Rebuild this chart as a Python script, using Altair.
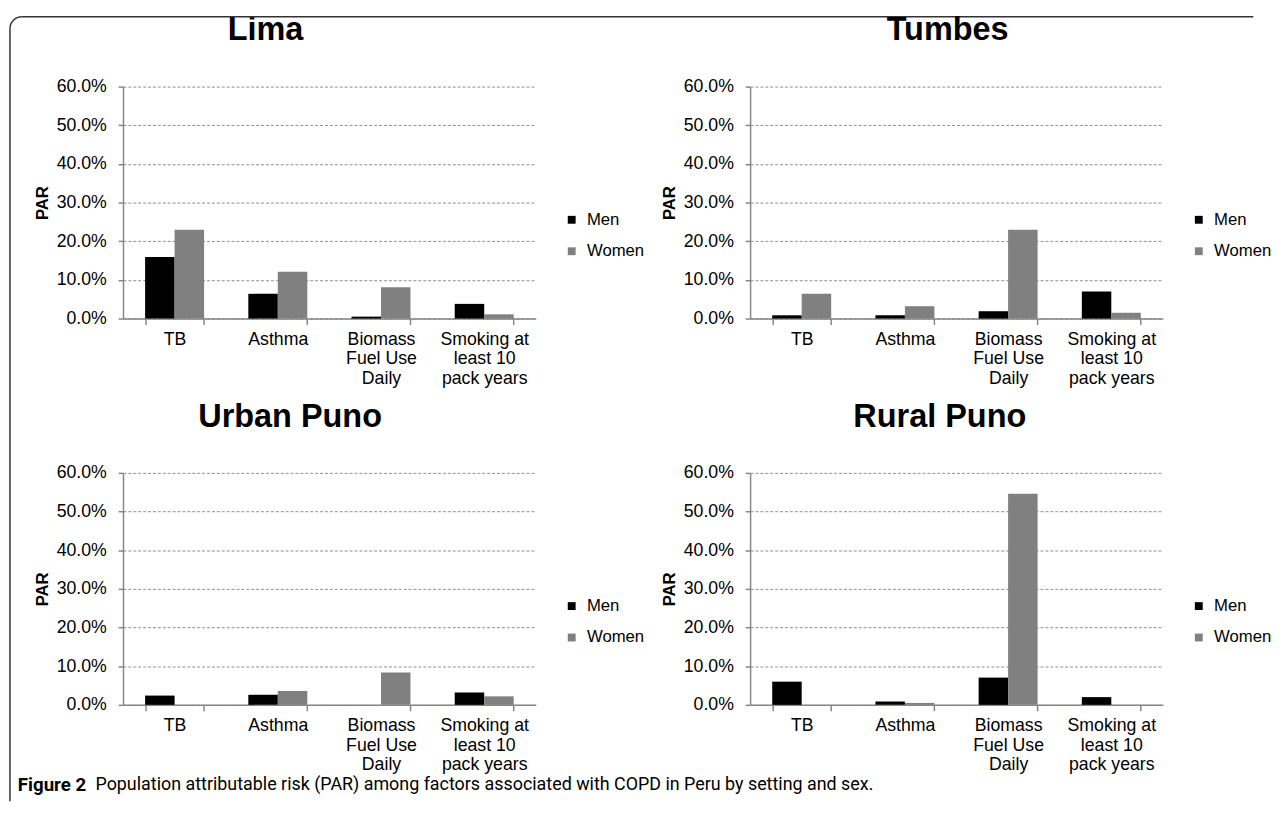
import altair as alt
import pandas as pd

categories = ["TB", "Asthma", "Biomass\nFuel Use\nDaily", "Smoking at\nleast 10\npack years"]
sexes = ["Men", "Women"]

lima_men = [15.9, 6.4, 0.5, 3.8]
lima_women = [23.0, 12.1, 8.1, 1.1]
tumbes_men = [0.85, 0.85, 1.9, 7.0]
tumbes_women = [6.4, 3.2, 23.0, 1.5]
urban_men = [2.4, 2.6, 0.0, 3.2]
urban_women = [0.0, 3.6, 8.4, 2.2]
rural_men = [6.0, 0.85, 7.05, 2.0]
rural_women = [0.0, 0.5, 54.6, 0.0]

y_ticks = [0, 10, 20, 30, 40, 50, 60]
caption_bold = "Figure 2"
caption_text = "Population attributable risk (PAR) among factors associated with COPD in Peru by setting and sex."

W, H = 420, 236
FONT = "Liberation Sans"
CAP_FONT = "Roboto"
TITLE_BASE = -47
TITLE_LH = -30


def panel(name, men, women, title_dx, legend_x, decorations=False):
    df = pd.DataFrame({
        "Category": categories * 2,
        "Sex": ["Men"] * len(categories) + ["Women"] * len(categories),
        "PAR": men + women,
    })
    bars = alt.Chart(df).mark_bar().encode(
        x=alt.X("Category:N", sort=categories,
                scale=alt.Scale(paddingInner=0.4286, paddingOuter=0.2143),
                axis=alt.Axis(title=None, labelAngle=0, tickBand="extent",
                              labelExpr="split(datum.label, '\\n')",
                              labelLineHeight=20, tickSize=6, labelPadding=6,
                              grid=False)),
        xOffset=alt.XOffset("Sex:N", sort=sexes,
                            scale=alt.Scale(paddingInner=0, paddingOuter=0)),
        y=alt.Y("PAR:Q", scale=alt.Scale(domain=[0, 60], nice=False),
                axis=alt.Axis(title="PAR", values=y_ticks,
                              labelExpr="format(datum.value, '.1f') + '%'",
                              tickSize=5, labelPadding=12, titlePadding=5,
                              titleFontWeight="bold", titleFontSize=17,
                              grid=True)),
        color=alt.Color("Sex:N", sort=sexes,
                        scale=alt.Scale(domain=sexes, range=["#000000", "#808080"]),
                        legend=alt.Legend(title=None, orient="none",
                                          legendX=legend_x, legendY=127)),
    )
    one = pd.DataFrame({"k": [0]})
    base = alt.Chart(one)
    title = base.mark_text(text=["", name], lineHeight=TITLE_LH, font=FONT,
                           fontSize=33, fontWeight="bold", color="#000000",
                           align="center", baseline="alphabetic").encode(
        x=alt.value(W / 2 + title_dx), y=alt.value(TITLE_BASE - TITLE_LH))
    layers = [bars, title]
    if decorations:
        left_line = base.mark_rule(color="#333333", strokeWidth=1.5).encode(
            x=alt.value(-115), y=alt.value(-59), y2=alt.value(727))
        top_line = base.mark_rule(color="#333333", strokeWidth=1.5).encode(
            x=alt.value(-103), x2=alt.value(1150), y=alt.value(-71))
        corner = base.mark_arc(radius=12.75, radius2=11.25, theta=4.7124,
                               theta2=6.2832, color="#333333").encode(
            x=alt.value(-103), y=alt.value(-59))
        cap1 = base.mark_text(align="left", baseline="middle", font=CAP_FONT,
                              fontSize=19, fontWeight="bold", color="#000000",
                              text=caption_bold).encode(
            x=alt.value(-107), y=alt.value(711))
        cap2 = base.mark_text(align="left", baseline="middle", font=CAP_FONT,
                              fontSize=18.2, color="#000000",
                              text=caption_text).encode(
            x=alt.value(-28), y=alt.value(711))
        layers += [left_line, top_line, corner, cap1, cap2]
    return alt.layer(*layers).properties(width=W, height=H)


lima = panel("Lima", lima_men, lima_women, -65, 448, decorations=True)
tumbes = panel("Tumbes", tumbes_men, tumbes_women, -9, 448)
urban = panel("Urban Puno", urban_men, urban_women, -40, 448)
rural = panel("Rural Puno", rural_men, rural_women, -17, 448)

chart = alt.concat(
    lima, tumbes, urban, rural, columns=2,
    spacing={"row": 157, "column": 218}, bounds="flush",
).resolve_scale(color="independent").resolve_legend(color="independent").properties(
    padding={"left": 0, "top": 0, "right": 0, "bottom": 0},
    background="white",
).configure_view(stroke="transparent").configure_axis(
    labelFont=FONT, labelFontSize=18, labelColor="#000000",
    titleFont=FONT, titleColor="#000000",
    domainColor="#868686", domainWidth=1.5,
    tickColor="#868686", tickWidth=1.5,
    gridColor="#8c8c8c", gridDash=[3, 2], gridWidth=1,
).configure_legend(
    labelFont=FONT, labelFontSize=17, labelColor="#000000",
    symbolType="square", symbolSize=64, symbolStrokeWidth=0,
    rowPadding=14, labelOffset=7, padding=0,
)

chart.save("out.html", embed_options={"renderer": "svg", "actions": False})
